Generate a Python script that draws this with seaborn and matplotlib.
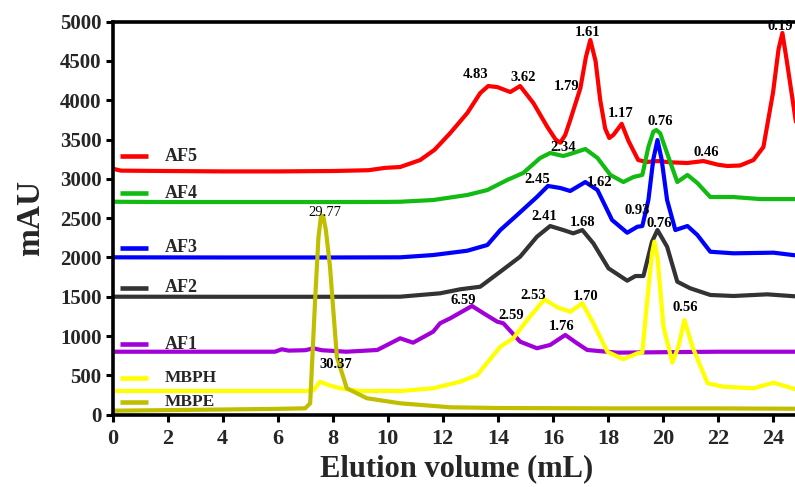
import matplotlib
matplotlib.use("Agg")
import matplotlib.pyplot as plt
import seaborn as sns
import pandas as pd

# chromatogram traces (elution volume in mL, absorbance in mAU)
af5_x = [0, 0.3, 2, 4, 6, 8, 9.3, 9.9, 10.45, 11.18, 11.7, 12.27, 12.89, 13.36, 13.65, 13.98,
         14.45, 14.81, 15.29, 15.8, 16.1, 16.27, 16.45, 16.63, 17.0, 17.2, 17.36, 17.55, 17.72,
         17.9, 18.05, 18.2, 18.5, 18.75, 19.1, 19.4, 19.8, 20.3, 20.89, 21.47, 22.0, 22.34,
         22.8, 23.29, 23.65, 24.0, 24.2, 24.34, 24.5, 24.82, 25]
af5_y = [3130, 3105, 3100, 3095, 3095, 3100, 3110, 3140, 3151, 3240, 3370, 3583, 3838, 4092,
         4181, 4168, 4105, 4181, 3965, 3660, 3500, 3460, 3560, 3748, 4156, 4550, 4767, 4500,
         4003, 3640, 3520, 3560, 3700, 3480, 3240, 3215, 3227, 3210, 3202, 3227, 3180, 3164,
         3170, 3240, 3405, 4100, 4650, 4856, 4500, 3748, 3450]

af4_x = [0, 2, 4, 6, 8, 10, 10.45, 11.65, 12.89, 13.62, 14.34, 14.92, 15.54, 15.9, 16.38,
         16.74, 17.18, 17.62, 18.09, 18.56, 18.93, 19.25, 19.47, 19.65, 19.76, 19.9, 20.02,
         20.52, 20.89, 21.25, 21.72, 22.56, 23.54, 25]
af4_y = [2709, 2705, 2705, 2705, 2705, 2707, 2709, 2731, 2795, 2858, 2986, 3075, 3266, 3329,
         3291, 3329, 3380, 3266, 3050, 2960, 3024, 3050, 3405, 3600, 3622, 3580, 3456, 2960,
         3050, 2947, 2769, 2769, 2743, 2743]

af3_x = [0, 4, 8, 10.45, 11.65, 12.89, 13.62, 14.09, 14.7, 15.42, 15.82, 16.27, 16.63, 17.18,
         17.62, 18.15, 18.7, 19.07, 19.25, 19.47, 19.65, 19.8, 19.95, 20.15, 20.45, 20.89,
         21.25, 21.72, 22.56, 24.02, 25]
af3_y = [2002, 2000, 2000, 2002, 2031, 2086, 2159, 2349, 2540, 2770, 2910, 2884, 2846, 2960,
         2858, 2477, 2315, 2391, 2400, 2731, 3250, 3494, 3250, 2731, 2349, 2400, 2286, 2073,
         2053, 2061, 2019]

af2_x = [0, 4, 8, 10.45, 11.9, 12.63, 13.36, 14.09, 14.81, 15.42, 15.9, 16.38, 16.74, 17.07,
         17.47, 18.02, 18.7, 19.0, 19.29, 19.6, 19.8, 20.15, 20.52, 20.99, 21.72, 22.56, 23.79, 25]
af2_y = [1501, 1500, 1500, 1501, 1544, 1595, 1628, 1819, 2010, 2264, 2400, 2349, 2307, 2349,
         2180, 1862, 1705, 1764, 1764, 2200, 2349, 2137, 1692, 1608, 1523, 1510, 1531, 1501]

af1_x = [0, 2, 4, 5.9, 6.15, 6.4, 7.0, 7.3, 7.6, 8.5, 9.62, 10.45, 10.92, 11.65, 11.9, 12.27,
         13.06, 13.48, 13.98, 14.2, 14.81, 15.42, 15.9, 16.45, 16.88, 17.25, 18.34, 20, 22, 25]
af1_y = [801, 801, 801, 801, 832, 815, 820, 845, 820, 801, 823, 972, 916, 1056, 1163, 1226,
         1383, 1290, 1183, 1163, 929, 845, 887, 1014, 908, 823, 789, 795, 801, 801]

mbph_x = [0, 4, 7.0, 7.3, 7.54, 7.9, 8.27, 9, 10.45, 11.65, 12.63, 13.25, 14.09, 14.56, 15.07,
          15.69, 16.16, 16.63, 17.07, 17.47, 17.98, 18.56, 19.07, 19.25, 19.43, 19.6, 19.69,
          19.8, 20.02, 20.34, 20.56, 20.78, 21.07, 21.62, 22.19, 23.29, 24.02, 24.82, 25]
mbph_y = [301, 301, 301, 310, 420, 370, 336, 301, 301, 336, 420, 505, 865, 972, 1205, 1468,
          1366, 1310, 1417, 1163, 801, 705, 781, 789, 1459, 2050, 2201, 2000, 1119, 661, 865,
          1205, 865, 399, 356, 336, 407, 323, 310]

mbpe_x = [0, 2, 4, 6, 7.0, 7.18, 7.36, 7.48, 7.57, 7.65, 7.75, 7.9, 8.15, 8.51, 9.24, 10.45,
          12.27, 14, 18, 22, 25]
mbpe_y = [51, 58, 66, 74, 81, 145, 1459, 2250, 2520, 2530, 2350, 1883, 738, 336, 209, 145,
          94, 85, 80, 80, 75]

samples = ["AF5", "AF4", "AF3", "AF2", "AF1", "MBPH", "MBPE"]
colors = ["#ff0000", "#11bb11", "#0000ff", "#333333", "#a100d8", "#ffff00", "#bfbf00"]
traces = [(af5_x, af5_y), (af4_x, af4_y), (af3_x, af3_y), (af2_x, af2_y),
          (af1_x, af1_y), (mbph_x, mbph_y), (mbpe_x, mbpe_y)]

# peak labels
peak_text = ["4.83", "3.62", "1.79", "1.61", "1.17", "0.76", "0.46", "0.19", "2.34", "2.45",
             "1.62", "0.93", "2.41", "1.68", "0.76", "6.59", "2.59", "2.53", "1.70", "1.76",
             "0.56", "29.77", "30.37"]
peak_x = [13.2, 14.91, 16.51, 17.26, 18.48, 19.9, 21.58, 24.27, 16.39, 15.44, 17.7, 19.08,
          15.69, 17.09, 19.85, 12.75, 14.49, 15.28, 17.18, 16.33, 20.81, 7.72, 8.12]
peak_y = [4334, 4287, 4181, 4864, 3834, 3727, 3333, 4935, 3401, 2998, 2951, 2595, 2519, 2442,
          2435, 1459, 1268, 1510, 1501, 1128, 1366, 2570, 641]

# where the hand-placed legend rows sit (mAU)
legend_y = [3290, 2820, 2121, 1612, 898, 467, 164]

rows = []
for name, (xs, ys) in zip(samples, traces):
    for xv, yv in zip(xs, ys):
        rows.append({"volume": xv, "mAU": yv, "sample": name})
df = pd.DataFrame(rows)

sns.set_style("ticks")
plt.rcParams["font.family"] = ["Liberation Serif", "DejaVu Serif"]
plt.rcParams["font.weight"] = "bold"

fig = plt.figure(figsize=(7.95, 4.87), dpi=100)
ax = fig.add_axes([0.1416, 0.1485, 0.8654, 0.807])

sns.lineplot(data=df, x="volume", y="mAU", hue="sample", hue_order=samples,
             palette=dict(zip(samples, colors)), estimator=None, sort=False,
             legend=False, linewidth=3, ax=ax)
for line in ax.lines:
    line.set_solid_joinstyle("round")
    line.set_solid_capstyle("round")

for txt, tx, ty in zip(peak_text, peak_x, peak_y):
    ax.text(tx, ty, txt, ha="center", va="center", fontsize=10.5,
            fontweight="normal" if txt == "29.77" else "bold", color="black", zorder=5)

for name, col, ly in zip(samples, colors, legend_y):
    ax.plot([0.28, 1.28], [ly, ly], color=col, lw=3.3, solid_capstyle="butt", clip_on=False)
    ax.text(1.9, ly, name, ha="left", va="center", fontsize=12.5 if len(name) > 3 else 13,
            fontweight="bold")

ax.set_xlim(0, 25)
ax.set_ylim(0, 5000)
ax.set_xticks(range(0, 25, 2))
ax.set_yticks(range(0, 5001, 500))
ax.set_xlabel("Elution volume (mL)", fontsize=22, fontweight="bold", labelpad=4)
ax.set_ylabel("mAU", fontsize=24, fontweight="bold", labelpad=10)

for s in ["left", "bottom", "top"]:
    ax.spines[s].set_linewidth(2.6)
    ax.spines[s].set_color("black")
ax.spines["right"].set_visible(False)
ax.tick_params(axis="both", direction="out", length=5, width=2.2, color="black")
ax.tick_params(axis="x", labelsize=16, pad=5)
ax.tick_params(axis="y", labelsize=15, pad=3)
for lab in ax.get_xticklabels() + ax.get_yticklabels():
    lab.set_fontweight("bold")

fig.savefig("out.png", dpi=100)
